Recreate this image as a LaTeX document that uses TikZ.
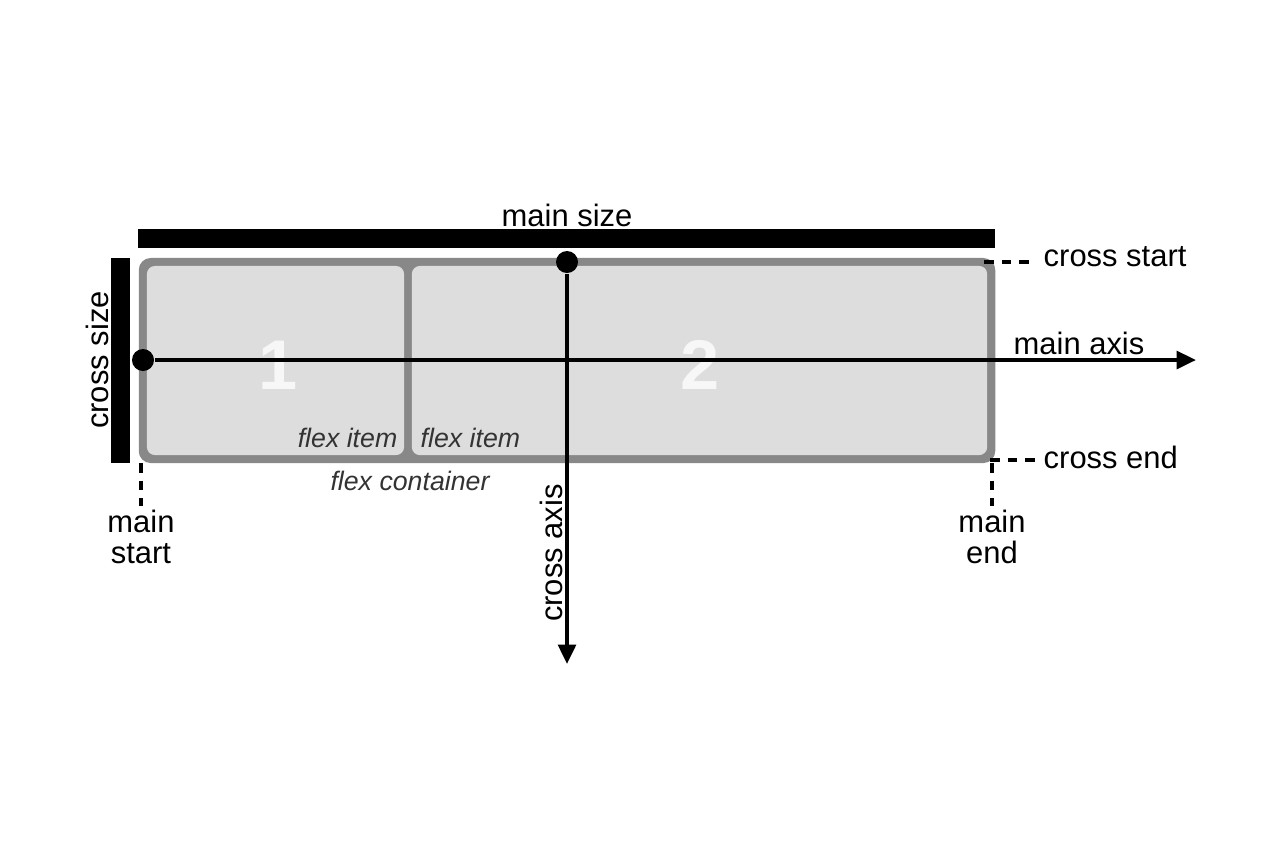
\documentclass[tikz,border=0pt]{standalone}
\usepackage{fontspec}
\setmainfont{Liberation Sans}
\usetikzlibrary{arrows.meta}
\definecolor{boxgray}{HTML}{888888}
\definecolor{itemgray}{HTML}{DDDDDD}
\definecolor{textgray}{HTML}{333333}

\begin{document}
\begin{tikzpicture}[x=0.01cm, y=-0.01cm]
        \tikzstyle{label}=[inner sep=0pt, font=\fontsize{8.8}{8.8}\selectfont]
        \tikzstyle{itemlabel}=[inner sep=0pt, text=textgray, font=\fontsize{7.6}{7.6}\selectfont\itshape]
        \tikzstyle{number}=[inner sep=0pt, text=white!97!black, font=\fontsize{20}{20}\selectfont\bfseries]
        \tikzstyle{dot}=[circle, fill=black, minimum size=0.22cm, inner sep=0pt]
        \tikzstyle{axis}=[line width=1.1pt, -{Triangle[length=5.5pt, width=5pt]}]
        \tikzstyle{guide}=[line width=1.2pt, dash pattern=on 2.8pt off 2.2pt]

        \useasboundingbox (0,0) rectangle (1280,853);

        % container and items
        \node[fill=boxgray, rounded corners=0.12cm, minimum width=8.56cm, minimum height=2.05cm] (box) at (567,360.5) {};
        \node[fill=itemgray, rounded corners=0.08cm, minimum width=2.57cm, minimum height=1.89cm] (item1) at (275.5,360.5) {};
        \node[fill=itemgray, rounded corners=0.08cm, minimum width=5.75cm, minimum height=1.89cm] (item2) at (699.5,360.5) {};
        \node[number] (one) at (278,365) {1};
        \node[number] (two) at (700,365) {2};
        \node[itemlabel, anchor=east] (fi1) at (398,438) {flex item};
        \node[itemlabel, anchor=west] (fi2) at (420,438) {flex item};
        \node[itemlabel] (fc) at (410,481) {flex container};

        % sizes
        \fill (138,229) rectangle (995,248);
        \fill (111,258) rectangle (130,463);
        \node[label] (msize) at (567,215) {main size};
        \node[label, rotate=90] (csize) at (97,360) {cross size};

        % axes
        \node[dot] (mstart) at (143,360) {};
        \node[dot] (cstart) at (567,262) {};
        \coordinate (maend) at (1196,360);
        \coordinate (caend) at (567,664);
        \draw[axis] (mstart) -- (maend);
        \draw[axis] (cstart) -- (caend);
        \node[label] (maxis) at (1079,343) {main axis};
        \node[label, rotate=90] (caxis) at (551,553) {cross axis};

        % start and end guides
        \coordinate (cs1) at (984,262);
        \coordinate (cs2) at (1036,262);
        \coordinate (ce1) at (990,460);
        \coordinate (ce2) at (1036,460);
        \coordinate (ms1) at (141,463);
        \coordinate (ms2) at (141,506);
        \coordinate (me1) at (992,463);
        \coordinate (me2) at (992,506);
        \draw[guide] (cs1) -- (cs2);
        \draw[guide] (ce1) -- (ce2);
        \draw[guide] (ms1) -- (ms2);
        \draw[guide] (me1) -- (me2);
        \node[label, anchor=west] (cstxt) at (1043,257) {cross start};
        \node[label, anchor=west] (cetxt) at (1043,457) {cross end};
        \node[label, align=center, font=\fontsize{8.8}{8.9}\selectfont] (mstxt) at (141,537) {main\\start};
        \node[label, align=center, font=\fontsize{8.8}{8.9}\selectfont] (metxt) at (992,537) {main\\end};
\end{tikzpicture}
\end{document}
